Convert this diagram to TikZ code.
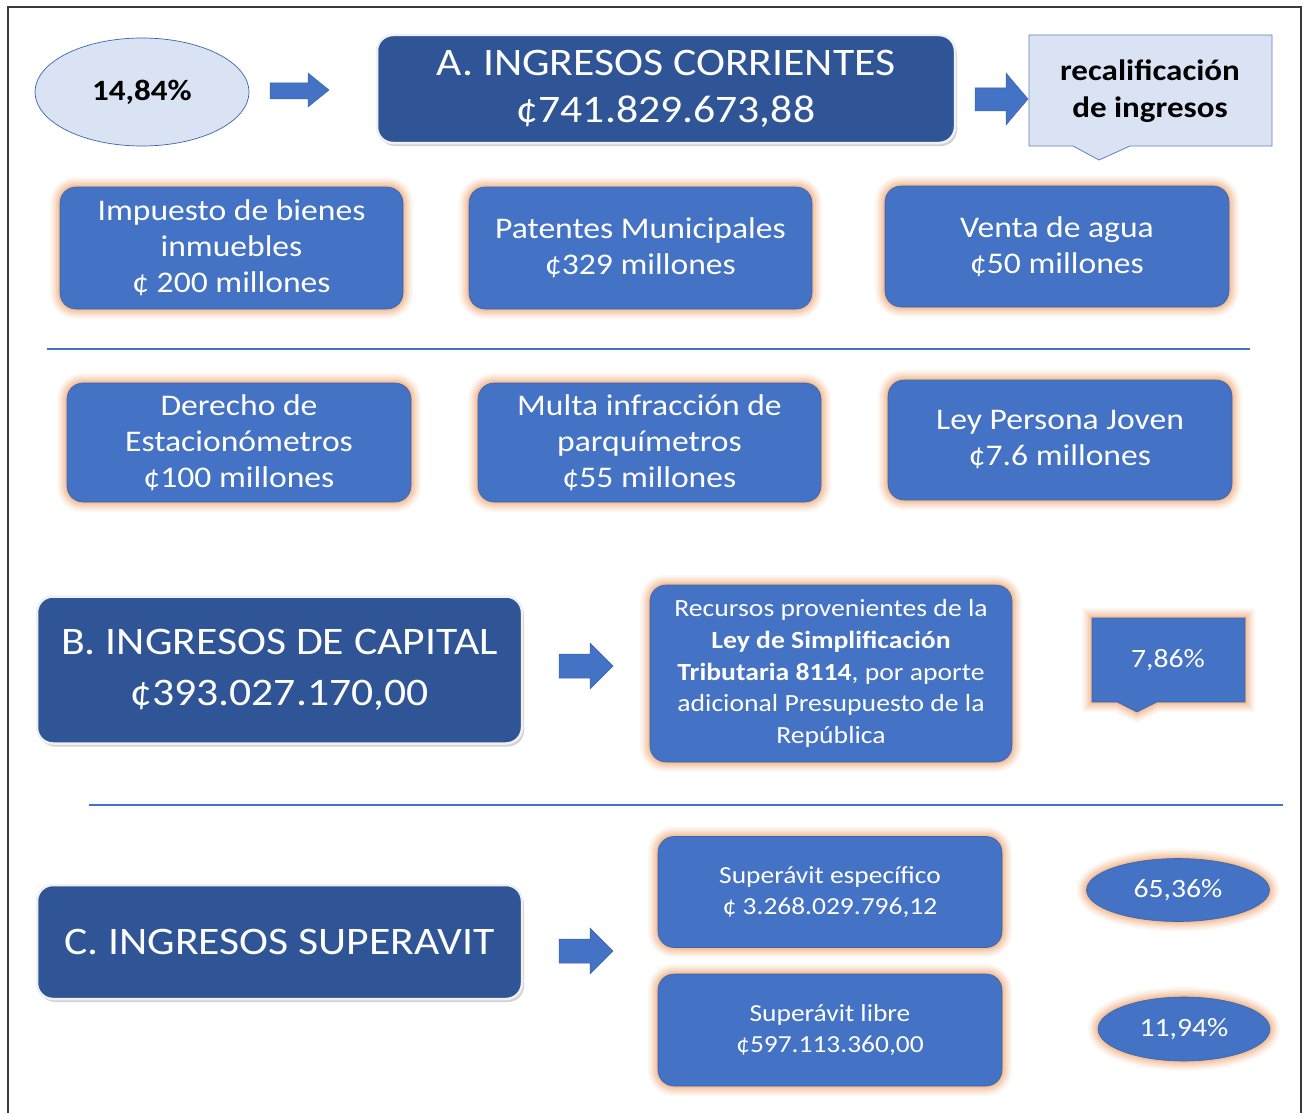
\documentclass[tikz,border=0pt]{standalone}
\usepackage{fontspec}
\setmainfont{Carlito}[FakeStretch=1.12]
\usetikzlibrary{shapes.geometric,shadows}
\definecolor{midblue}{HTML}{4472C4}
\definecolor{darkblue}{HTML}{2F5597}
\definecolor{lightblue}{HTML}{DAE3F3}
\definecolor{glowc}{HTML}{F4B183}
\definecolor{framec}{HTML}{3A3A3A}
\definecolor{edgec}{HTML}{3B64AD}
\tikzset{
  glow/.style={preaction={draw=glowc, line width=20pt, opacity=0.1},
               preaction={draw=glowc, line width=16pt, opacity=0.15},
               preaction={draw=glowc, line width=12pt, opacity=0.22},
               preaction={draw=glowc, line width=8pt, opacity=0.3},
               preaction={draw=glowc, line width=4pt, opacity=0.45}},
  bluebox/.style={glow, fill=midblue, draw=edgec, line width=0.6pt, rounded corners=16pt,
                  text=white, align=center, inner sep=0pt},
  darkbox/.style={fill=darkblue, draw=white!88!gray, line width=2.5pt, rounded corners=16pt,
                  text=white, align=center, inner sep=0pt,
                  drop shadow={shadow xshift=2pt, shadow yshift=-3pt, opacity=0.35}},
  blockarrow/.style={fill=midblue, draw=edgec, line width=0.5pt},
  pctell/.style={ellipse, glow, fill=midblue, draw=edgec, line width=0.6pt, text=white,
                 inner sep=0pt, font=\fontsize{26.5}{30}\selectfont},
  rowfont/.style={font=\fontsize{30}{36}\selectfont},
  sepline/.style={midblue, line width=1.3pt},
}
\begin{document}
\begin{tikzpicture}[x=1pt, y=-1pt]
\useasboundingbox (0,0) rectangle (1305,1113);
\fill[white] (0,0) rectangle (1305,1113);
% frame
\draw[framec, line width=1.6pt] (8,1113) -- (8,7) -- (1301,7) -- (1301,1113);

% top row
\node[ellipse, fill=lightblue, draw=edgec, line width=0.7pt, minimum width=214pt, minimum height=108pt,
      inner sep=0pt, font=\bfseries\fontsize{29.5}{30}\selectfont] (p1484) at (142,92) {14,84\%};
\draw[blockarrow] (270,83) -- (308,83) -- (308,73) -- (329,90) -- (308,107) -- (308,99) -- (270,99) -- cycle;

\node[darkbox, minimum width=578pt, minimum height=108pt, font=\fontsize{39}{47}\selectfont] (A) at (666,89)
  {A. INGRESOS CORRIENTES\\¢741.829.673,88};

\draw[blockarrow] (975,88) -- (1006,88) -- (1006,73) -- (1028,99) -- (1006,125) -- (1006,111) -- (975,111) -- cycle;

\draw[fill=lightblue, draw=edgec!80, line width=0.8pt] (1029,35) -- (1272,35) -- (1272,146) -- (1130,146) -- (1099,160) -- (1073,146) -- (1029,146) -- cycle;
\node[align=center, inner sep=0pt, font=\bfseries\fontsize{29.5}{37}\selectfont] (recal) at (1150,91)
  {recalificación\\de ingresos};

% row 1
\node[bluebox, rowfont, minimum width=343pt, minimum height=122pt] (ibi) at (231.5,248)
  {Impuesto de bienes\\inmuebles\\¢ 200 millones};
\node[bluebox, rowfont, minimum width=343pt, minimum height=122pt] (pat) at (640.5,248)
  {Patentes Municipales\\¢329 millones};
\node[bluebox, rowfont, minimum width=344pt, minimum height=121pt] (agua) at (1057,246.5)
  {Venta de agua\\¢50 millones};

\draw[sepline] (47,349) -- (1250,349);

% row 2
\node[bluebox, rowfont, minimum width=344pt, minimum height=119pt] (est) at (239,442.5)
  {Derecho de\\Estacionómetros\\¢100 millones};
\node[bluebox, rowfont, minimum width=343pt, minimum height=119pt] (multa) at (649.5,442.5)
  {Multa infracción de\\parquímetros\\¢55 millones};
\node[bluebox, rowfont, minimum width=344pt, minimum height=120pt] (joven) at (1060,440)
  {Ley Persona Joven\\¢7.6 millones};

% B
\node[darkbox, minimum width=485pt, minimum height=147pt, font=\fontsize{39}{51}\selectfont] (B) at (279.5,670)
  {B. INGRESOS DE CAPITAL\\¢393.027.170,00};
\draw[blockarrow] (559,654) -- (590,654) -- (590,643) -- (613,666) -- (590,689) -- (590,678) -- (559,678) -- cycle;
\node[bluebox, minimum width=362pt, minimum height=177pt, font=\fontsize{24.7}{31.7}\selectfont] (rec) at (831,673.5)
  {Recursos provenientes de la\\\textbf{Ley de Simplificación}\\\textbf{Tributaria 8114}, por aporte\\adicional Presupuesto de la\\República};
\path[glow, fill=midblue, draw=edgec, line width=0.6pt] (1092,618) -- (1245,618) -- (1245,702) -- (1157,702) -- (1137,712) -- (1117,702) -- (1092,702) -- cycle;
\node[text=white, inner sep=0pt, font=\fontsize{26.5}{30}\selectfont] (p786) at (1168,660) {7,86\%};

\draw[sepline] (89,805) -- (1283,805);

% C
\node[darkbox, minimum width=485pt, minimum height=114pt, font=\fontsize{39}{50}\selectfont] (C) at (279.5,942)
  {C. INGRESOS SUPERAVIT};
\draw[blockarrow] (559,939) -- (590,939) -- (590,928) -- (613,951) -- (590,974) -- (590,963) -- (559,963) -- cycle;
\node[bluebox, minimum width=344pt, minimum height=111pt, font=\fontsize{24.5}{30.5}\selectfont] (supe) at (830,892)
  {Superávit específico\\¢ 3.268.029.796,12};
\node[bluebox, minimum width=344pt, minimum height=112pt, font=\fontsize{24.5}{30.5}\selectfont] (supl) at (830,1030)
  {Superávit libre\\¢597.113.360,00};
\node[pctell, minimum width=183pt, minimum height=63pt] (p6536) at (1178,890) {65,36\%};
\node[pctell, minimum width=172pt, minimum height=64pt] (p1194) at (1184,1029) {11,94\%};
\end{tikzpicture}
\end{document}
